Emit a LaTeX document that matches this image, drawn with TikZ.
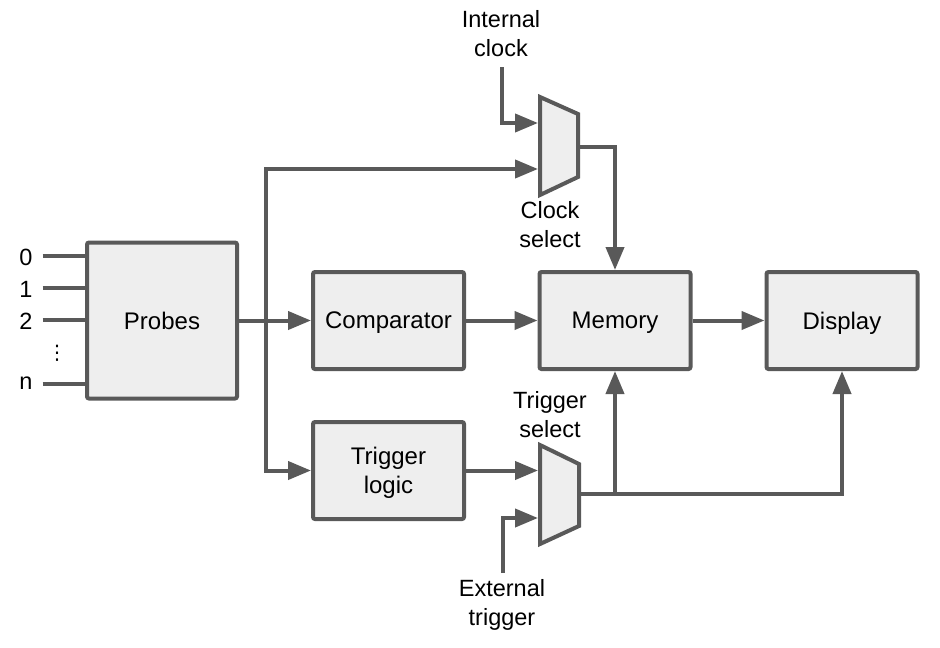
\documentclass[tikz,border=0pt]{standalone}
\usepackage{fontspec}
\setmainfont{Liberation Sans}
\newfontfamily\dejavu{DejaVu Sans}
\usetikzlibrary{arrows.meta}
\definecolor{ln}{HTML}{595959}
\definecolor{bx}{HTML}{EEEEEE}
\tikzset{
 box/.style={draw=ln, fill=bx, line width=4pt, rounded corners=2pt, minimum width=151pt, minimum height=97pt, inner sep=0pt, align=center, text depth=0pt, font=\fontsize{24}{29}\selectfont},
 wire/.style={draw=ln, line width=4pt},
 arr/.style={wire, -{Triangle[length=23pt,width=18pt]}},
 lbl/.style={align=center, font=\fontsize{23.5}{29}\selectfont, inner sep=0pt},
 mux/.style={draw=ln, fill=bx, line width=4pt, line join=miter},
}
\begin{document}
\begin{tikzpicture}[x=1pt,y=-1pt]
\useasboundingbox (0,0) rectangle (940,648);
% boxes
\node[box, minimum width=150pt, minimum height=156pt] (probes) at (162,320.5) {Probes};
\node[box] (comp) at (388.5,320.5) {Comparator};
\node[box] (mem) at (615,320.5) {Memory};
\node[box] (disp) at (842,320.5) {Display};
\node[box] (trig) at (388.5,470.5) {Trigger\\logic};
% muxes
\draw[mux] (540,97) -- (578,114) -- (578,177) -- (540,195) -- cycle;
\draw[mux] (540,445) -- (579,464) -- (579,526) -- (540,544) -- cycle;
\coordinate (cin1) at (538,123);
\coordinate (cin2) at (538,169);
\coordinate (cout) at (578,147);
\coordinate (tin1) at (538,470.5);
\coordinate (tin2) at (538,518);
\coordinate (tout) at (579,494);
% labels
\node[lbl] (iclk) at (501,34) {Internal\\clock};
\node[lbl] (csel) at (550,225) {Clock\\select};
\node[lbl] (tsel) at (550,414.5) {Trigger\\select};
\node[lbl] (etrg) at (502,605) {External\\trigger};
\coordinate (iclkend) at (502,67);
\coordinate (etrgend) at (503,573);
% probe inputs
\node[lbl] (l0) at (26,257) {0};
\node[lbl] (l1) at (26,289) {1};
\node[lbl] (l2) at (26,321) {2};
\node[lbl] (ln) at (26,383) {n};
\node[lbl, font=\dejavu\fontsize{20}{24}\selectfont] (dots) at (57,353) {⋮};
\foreach \n/\y in {l0/256,l1/288,l2/320,ln/384}{
  \draw[wire] ([xshift=10pt]\n.east |- 0,\y) -- (probes.west |- 0,\y);
}
% connectors
\coordinate (bus) at (266,320.5);
\draw[arr] (probes.east) -- (comp.west);
\draw[arr] (bus) |- (cin2);
\draw[arr] (bus) |- (trig.west);
\draw[arr] (iclkend) |- (cin1);
\draw[arr] (cout) -| (mem.north);
\draw[arr] (comp.east) -- (mem.west);
\draw[arr] (mem.east) -- (disp.west);
\draw[arr] (trig.east) -- (tin1);
\draw[arr] (etrgend) |- (tin2);
\draw[arr] (tout) -| (disp.south);
\draw[arr] (mem.south |- tout) -- (mem.south);
\end{tikzpicture}
\end{document}
